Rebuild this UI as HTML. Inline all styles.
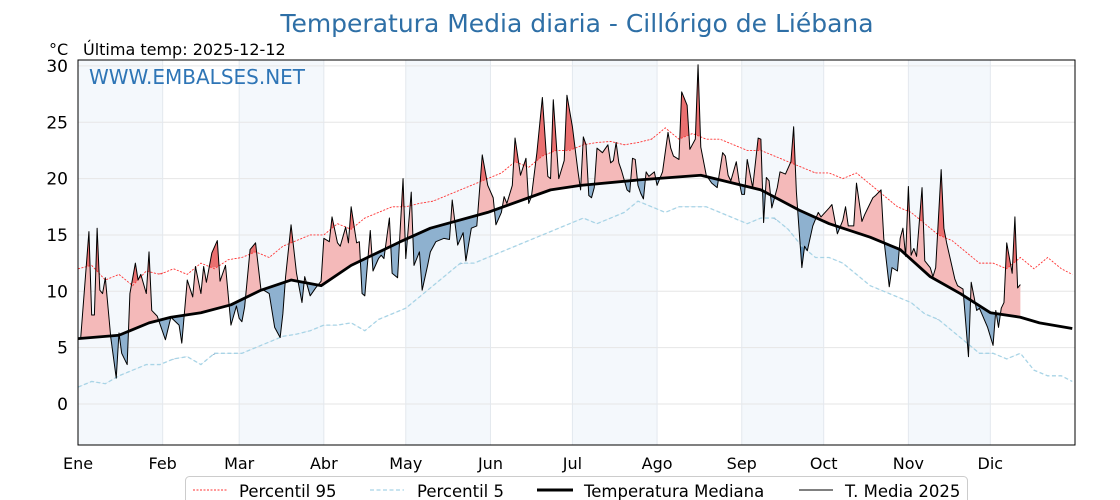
<!DOCTYPE html>
<html><head><meta charset="utf-8">
<style>
body{margin:0;background:#fff;}
svg{display:block;font-family:"DejaVu Sans","Liberation Sans",sans-serif;}
</style></head>
<body>
<svg id="chart" width="1120" height="500" viewBox="0 0 1120 500">
<g id="bands"></g><g id="grid"></g><g id="fills"></g><g id="lines"></g><g id="axes"></g>
<text x="577" y="32" text-anchor="middle" font-size="25" fill="#2e6fa6">Temperatura Media diaria - Cillórigo de Liébana</text>
<text x="49" y="55" font-size="16" fill="#000">°C</text>
<text x="83" y="55" font-size="16" fill="#000">Última temp: 2025-12-12</text>
<text x="89" y="84" font-size="20" fill="#2e75b6">WWW.EMBALSES.NET</text>
<g>
<rect x="185.5" y="476.5" width="782" height="40" rx="4" fill="#fff" stroke="#ccc"/>
<line x1="193" y1="490" x2="227" y2="490" stroke="#f33" stroke-width="1" stroke-dasharray="2,1.5"/>
<text x="239" y="497" font-size="16.5">Percentil 95</text>
<line x1="370" y1="490" x2="404" y2="490" stroke="#a8d4e6" stroke-width="1.3" stroke-dasharray="4,2.5"/>
<text x="417" y="497" font-size="16.5">Percentil 5</text>
<line x1="537" y1="490" x2="573" y2="490" stroke="#000" stroke-width="3"/>
<text x="584" y="497" font-size="16.5">Temperatura Mediana</text>
<line x1="799" y1="490" x2="833" y2="490" stroke="#000" stroke-width="1"/>
<text x="845" y="497" font-size="16.5">T. Media 2025</text>
</g>
</svg>
<script>
const monthLabels=["Ene","Feb","Mar","Abr","May","Jun","Jul","Ago","Sep","Oct","Nov","Dic"];
const monthStarts=[0,31,59,90,120,151,181,212,243,273,304,334];
const yTicks=[0,5,10,15,20,25,30];
const medianDays=[0,15,26,34,45,56,67,78,89,100,118,129,150,173,184,206,228,250,264,275,290,301,312,323,334,345,352,364];
const medianVals=[5.8,6.1,7.2,7.7,8.1,8.8,10.1,11,10.5,12.3,14.4,15.6,17,19,19.4,19.9,20.3,19,17.2,16,14.8,13.7,11.3,9.8,8.1,7.7,7.2,6.7];
const p95Days=[0,5,10,15,20,25,30,35,40,45,50,55,60,65,70,75,80,85,90,95,100,105,110,115,120,125,130,135,140,145,150,155,160,165,170,175,180,185,190,195,200,205,210,215,220,225,230,235,240,245,250,255,260,265,270,275,280,285,290,295,300,305,310,315,320,325,330,335,340,345,350,355,360,364];
const p95Vals=[12,12.3,11,11.5,10.5,11.8,11.5,12,11.5,12.5,12,12.8,13,13.5,13,14,14.5,15,15,16,15.5,16.5,17,17.5,17.5,17.8,18,18.5,19,19.5,20,20.5,21.5,21,22,22.5,22.5,23,23.2,23.3,23,23.2,23.5,24.5,23.5,24,23.5,23.5,23,22.5,22.5,22,21.5,21,20.5,20.5,20,20.5,19.5,18.5,17.5,17,16,15,14.5,13.5,12.5,12.5,12,13,12,13,12,11.5];
const p5Days=p95Days;
const p5Vals=[1.5,2,1.8,2.5,3,3.5,3.5,4,4.2,3.5,4.5,4.5,4.5,5,5.5,6,6.2,6.5,7,7,7.2,6.5,7.5,8,8.5,9.5,10.5,11.5,12.5,12.5,13,13.5,14,14.5,15,15.5,16,16.5,16,16.5,17,18,17.5,17,17.5,17.5,17.5,17,16.5,16,16.5,16.5,15.5,14,13,13,12.5,11.5,10.5,10,9.5,9,8,7.5,6.5,5.5,4.5,4.5,4,4.5,3,2.5,2.5,2];
const t2025Days=[0,1,4,5,6,7,8,9,10,12,14,15,16,18,19,21,22,23,25,26,27,29,32,34,37,38,40,42,43,45,46,47,49,51,52,54,56,58,59,60,61,63,65,67,68,70,72,74,75,76,78,80,82,83,85,87,89,90,92,93,95,96,98,99,100,102,103,104,105,107,108,110,111,112,114,115,117,118,119,120,122,123,125,126,128,129,131,134,136,137,139,141,142,144,146,148,150,152,153,155,156,157,159,160,162,164,165,166,168,170,172,173,174,176,178,179,181,183,184,185,186,187,188,189,190,192,194,195,196,197,198,199,201,202,203,204,205,206,207,208,209,211,212,214,216,217,218,220,221,223,224,226,227,228,230,232,234,236,237,238,239,241,242,243,244,245,247,249,250,251,252,253,254,256,257,259,261,262,263,264,265,266,267,269,271,272,275,276,278,280,281,282,284,285,287,288,289,291,292,294,295,297,298,300,301,302,303,304,305,306,307,309,310,312,313,314,316,317,318,321,322,324,326,327,329,330,333,335,336,337,338,339,340,342,343,344,345];
const t2025Vals=[5.7,5.9,15.3,7.9,7.9,15.6,10.1,9.8,11.2,5.9,2.3,6.3,4.5,3.5,9.8,12.5,11,11.5,9.8,13.5,8.3,7.8,5.7,7.7,7,5.4,11,9.5,12.2,9.8,12.2,10.8,13.4,14.5,10.9,12.3,7,8.7,7.6,7.3,8.6,13.7,14.3,10.1,10.1,9.8,6.8,5.9,8,11.3,15.9,11.6,9,11.3,9.6,10.3,10.9,14.7,14.4,16.6,14.3,14,15.7,14.3,17.5,14.3,14.4,9.8,9.6,15.4,11.8,12.9,13.2,12.9,16.5,11.6,11.2,15.7,20,12.9,18.8,12.3,13.5,10.1,12.3,13.5,14.4,14.7,14.6,18.1,14.1,15.2,12.7,15.6,15.8,22.1,19.4,18.3,15.9,17,18.4,17.8,19.4,23.6,20.3,21.8,17.8,18.4,22.3,27.2,20.2,20,27,20,21.6,27.4,24.6,20.7,19,23.7,23,18.5,18.3,19.2,22.7,22.3,23,21.4,21.6,23.2,21.4,20.7,19,18.8,21.8,21.7,19.4,18.7,18.2,20.6,20.2,20.6,19.4,20.6,24.1,22.7,22,21.7,27.7,26.5,22.6,23.5,30.1,22.8,20.3,19.6,19.2,22.3,22,20.3,19.8,21.5,19.8,18.6,18.6,21.7,19.2,23.6,23.5,16.1,20.1,19.8,17.4,19.2,20.6,20.4,21.5,24.6,18.8,15.4,12.1,14,13.6,15.8,17,16.6,17.4,17.7,15.1,16.3,17.5,15.8,15.8,19.6,16.2,16.8,17.3,18.3,18.5,19,14.7,10.4,12.1,11.8,14.7,15.6,13.1,19.3,13.2,13.8,13.1,19.2,12.7,12.1,11.3,12.1,20.8,15.6,14.3,11.1,10.5,10.2,4.2,10.8,8.3,8.5,6.8,5.2,8.3,6.8,8.5,9,14.3,11.6,16.6,10.3,10.6];

const NS="http://www.w3.org/2000/svg";
const X0=78,X1=1075,Y0=60,Y1=445;
const xs=d=>X0+d*(X1-X0)/365;
const ys=v=>404-v*11.27;
function mk(tag,attrs,parent){const e=document.createElementNS(NS,tag);for(const k in attrs)e.setAttribute(k,attrs[k]);parent.appendChild(e);return e;}
function interp(days,vals,d){if(d<=days[0])return vals[0];for(let i=1;i<days.length;i++){if(d<=days[i]){const t=(d-days[i-1])/(days[i]-days[i-1]);return vals[i-1]+t*(vals[i]-vals[i-1]);}}return vals[vals.length-1];}
function pts(days,vals){return days.map((d,i)=>xs(d).toFixed(2)+","+ys(vals[i]).toFixed(2)).join(" ");}

const bands=document.getElementById('bands'),grid=document.getElementById('grid'),fills=document.getElementById('fills'),lines=document.getElementById('lines'),axes=document.getElementById('axes');
monthStarts.forEach((m,i)=>{if(i%2===0){const end=i+1<monthStarts.length?monthStarts[i+1]:365;
const r=mk('rect',{x:xs(m),y:Y0,width:xs(end)-xs(m),height:Y1-Y0,fill:'#f4f8fc'},bands);

}});
yTicks.forEach(v=>{const l=mk('line',{x1:X0,x2:X1,y1:ys(v),y2:ys(v),stroke:'#e6e6e6','stroke-width':1},grid);


const t=mk('text',{x:68,y:ys(v)+6,'text-anchor':'end','font-size':17},axes);t.textContent=v;

});
monthStarts.forEach((m,i)=>{const l=mk('line',{x1:xs(m),x2:xs(m),y1:Y0,y2:Y1,stroke:'#e3e8ee','stroke-width':1},grid);


const t=mk('text',{x:xs(m),y:469,'text-anchor':'middle','font-size':16},axes);t.textContent=monthLabels[i];

});
const defs=mk('defs',{},document.getElementById('chart'));
function clipFrom(days,vals,above,id){const c=mk('clipPath',{id:id},defs);
let p=[];for(let d=0;d<=365;d++)p.push(xs(d)+","+ys(interp(days,vals,d)));
p.push(xs(365)+","+(above?0:500));p.push(xs(0)+","+(above?0:500));mk('polygon',{points:p.join(" ")},c);}
clipFrom(medianDays,medianVals,true,'aboveMed');clipFrom(medianDays,medianVals,false,'belowMed');
clipFrom(p95Days,p95Vals,true,'aboveP95');clipFrom(p5Days,p5Vals,false,'belowP5');
function areaBetween(refDays,refVals){let a=t2025Days.map((d,i)=>xs(d)+","+ys(t2025Vals[i]));
const dd=t2025Days.slice().reverse();let b=dd.map(d=>xs(d)+","+ys(interp(refDays,refVals,d)));return a.concat(b).join(" ");}
const fa=mk('polygon',{points:areaBetween(medianDays,medianVals),fill:'#f4b9b9','clip-path':'url(#aboveMed)'},fills);


const fb=mk('polygon',{points:areaBetween(medianDays,medianVals),fill:'#8eb1cf','clip-path':'url(#belowMed)'},fills);


const fc=mk('polygon',{points:areaBetween(p95Days,p95Vals),fill:'#ea7070','clip-path':'url(#aboveP95)'},fills);


const fd=mk('polygon',{points:areaBetween(p5Days,p5Vals),fill:'#5f8fb8','clip-path':'url(#belowP5)'},fills);


const l95=mk('polyline',{points:pts(p95Days,p95Vals),fill:'none',stroke:'#f33','stroke-width':0.9,'stroke-dasharray':'2,1.5'},lines);


const l5=mk('polyline',{points:pts(p5Days,p5Vals),fill:'none',stroke:'#a8d4e6','stroke-width':1.3,'stroke-dasharray':'4,2.5'},lines);


const lm=mk('polyline',{points:pts(medianDays,medianVals),fill:'none',stroke:'#000','stroke-width':2.8,'stroke-linejoin':'round'},lines);


const lt=mk('polyline',{points:pts(t2025Days,t2025Vals),fill:'none',stroke:'#000','stroke-width':1,'stroke-linejoin':'round'},lines);


const fr=mk('rect',{x:X0,y:Y0,width:X1-X0,height:Y1-Y0,fill:'none',stroke:'#000','stroke-width':1},axes);


</script>
</body></html>
